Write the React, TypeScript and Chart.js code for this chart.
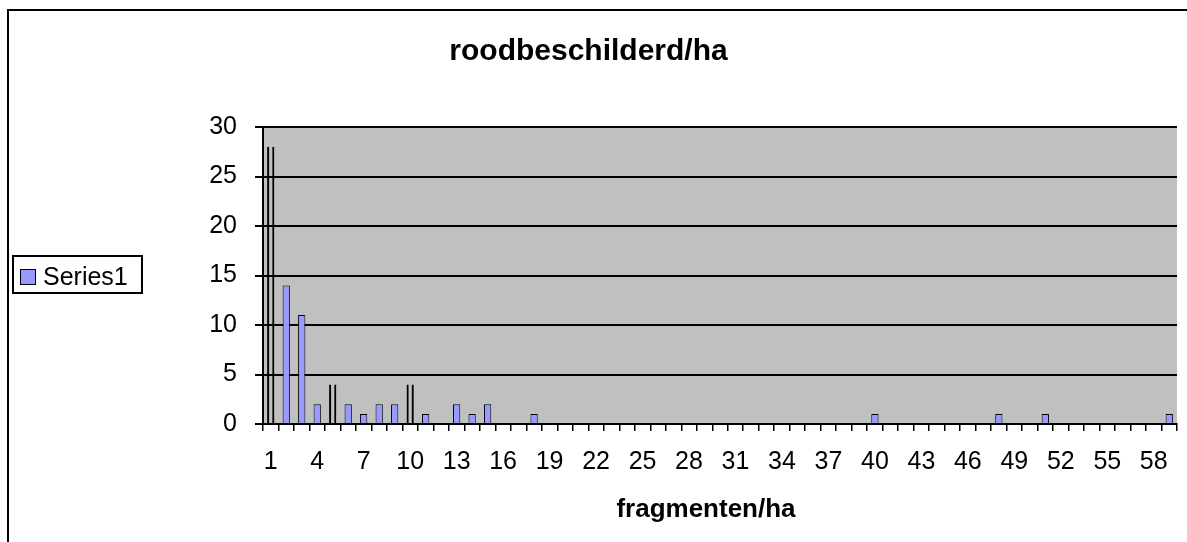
import React, { useEffect, useRef } from 'react';
import { Chart, registerables } from 'chart.js';

Chart.register(...registerables);

const FONT = '"Liberation Sans", Arial, Helvetica, sans-serif';

const chartTitle = 'roodbeschilderd/ha';
const xAxisTitle = 'fragmenten/ha';
const seriesName = 'Series1';

const categories = [
  '1', '2', '3', '4', '5', '6', '7', '8', '9', '10',
  '11', '12', '13', '14', '15', '16', '17', '18', '19', '20',
  '21', '22', '23', '24', '25', '26', '27', '28', '29', '30',
  '31', '32', '33', '34', '35', '36', '37', '38', '39', '40',
  '41', '42', '43', '44', '45', '46', '47', '48', '49', '50',
  '51', '52', '53', '54', '55', '56', '57', '58', '59',
];

const seriesValues: (number | null)[] = [
  28, 14, 11, 2, 4, 2, 1, 2, 2, 4,
  1, null, 2, 1, 2, null, null, 1, null, null,
  null, null, null, null, null, null, null, null, null, null,
  null, null, null, null, null, null, null, null, null, 1,
  null, null, null, null, null, null, null, 1, null, null,
  1, null, null, null, null, null, null, null, 1,
];

// bars that appear as open black outlines in the picture
const outlinedCategories = ['1', '5', '10'];

const xTickLabels = ['1', '4', '7', '10', '13', '16', '19', '22', '25', '28', '31', '34', '37', '40', '43', '46', '49', '52', '55', '58'];

const yMin = 0;
const yMax = 30;
const yStep = 5;

const barFill = '#9999FF';
const plotBg = '#C0C0C0';

const isOutlined = (i: number) => outlinedCategories.includes(categories[i]);

const decorPlugin = {
  id: 'decor',
  beforeDraw(chart: any) {
    const { ctx, chartArea: a } = chart;
    ctx.save();
    ctx.fillStyle = '#ffffff';
    ctx.fillRect(0, 0, chart.width, chart.height);
    ctx.fillStyle = plotBg;
    ctx.fillRect(a.left, a.top, a.right - a.left, a.bottom - a.top);
    ctx.restore();
  },
  afterDraw(chart: any) {
    const { ctx } = chart;
    ctx.save();
    // outer chart frame (left and top edges visible)
    ctx.fillStyle = '#000';
    ctx.fillRect(7, 9, 2, chart.height - 9);
    ctx.fillRect(7, 9, chart.width - 7, 2);

    // legend
    ctx.lineWidth = 2;
    ctx.strokeStyle = '#000';
    ctx.strokeRect(13, 256, 129, 37);
    ctx.fillStyle = barFill;
    ctx.fillRect(20, 269, 15, 16);
    ctx.lineWidth = 1;
    ctx.strokeRect(20.5, 269.5, 15, 15);
    ctx.fillStyle = '#000';
    ctx.font = `25px ${FONT}`;
    ctx.textAlign = 'left';
    ctx.textBaseline = 'alphabetic';
    ctx.fillText(seriesName, 43, 285);

    // x axis title
    ctx.font = `bold 26px ${FONT}`;
    ctx.textAlign = 'center';
    ctx.fillText(xAxisTitle, 706, 517);
    ctx.restore();
  },
};

export default function App() {
  const ref = useRef<HTMLCanvasElement | null>(null);

  useEffect(() => {
    if (!ref.current) return;
    const chart = new Chart(ref.current, {
      type: 'bar',
      data: {
        labels: categories,
        datasets: [
          {
            label: seriesName,
            data: seriesValues,
            backgroundColor: (c: any) => (isOutlined(c.dataIndex) ? 'rgba(0,0,0,0)' : barFill),
            borderColor: '#000000',
            borderWidth: (c: any) =>
              isOutlined(c.dataIndex) ? { left: 2, right: 2, top: 0, bottom: 0 } : 1,
            borderSkipped: 'start',
            barPercentage: 0.47,
            categoryPercentage: 1,
          } as any,
        ],
      },
      options: {
        responsive: false,
        animation: false,
        devicePixelRatio: 1,
        layout: { padding: { left: 0, top: 0, right: 10, bottom: 0 } },
        plugins: {
          legend: { display: false },
          tooltip: { enabled: false },
          title: {
            display: true,
            text: chartTitle,
            color: '#000',
            font: { family: FONT, size: 30, weight: 'bold' },
            padding: { top: 34, bottom: 57 },
          },
        },
        scales: {
          x: {
            grid: {
              display: true,
              drawOnChartArea: false,
              drawTicks: true,
              tickLength: 7,
              color: '#000',
              lineWidth: 1.5,
              offset: true,
            },
            border: { display: true, color: '#000', width: 2 },
            ticks: {
              autoSkip: false,
              maxRotation: 0,
              minRotation: 0,
              padding: 16,
              color: '#000',
              font: { family: FONT, size: 25 },
              callback: (_v: any, index: number) =>
                xTickLabels.includes(categories[index]) ? categories[index] : '',
            },
            afterFit: (s: any) => {
              s.height = 118;
            },
          },
          y: {
            min: yMin,
            max: yMax,
            ticks: {
              stepSize: yStep,
              padding: 18,
              color: '#000',
              font: { family: FONT, size: 25 },
            },
            grid: { color: '#000', lineWidth: 2, tickLength: 8, drawTicks: true },
            border: { display: true, color: '#000', width: 2 },
            afterFit: (s: any) => {
              s.width = 263;
            },
          },
        },
      } as any,
      plugins: [decorPlugin],
    });
    return () => chart.destroy();
  }, []);

  return (
    <div style={{ position: 'absolute', left: 0, top: 0, width: 1187, height: 542, background: '#fff' }}>
      <canvas ref={ref} width={1187} height={542} style={{ display: 'block', width: 1187, height: 542 }} />
    </div>
  );
}
